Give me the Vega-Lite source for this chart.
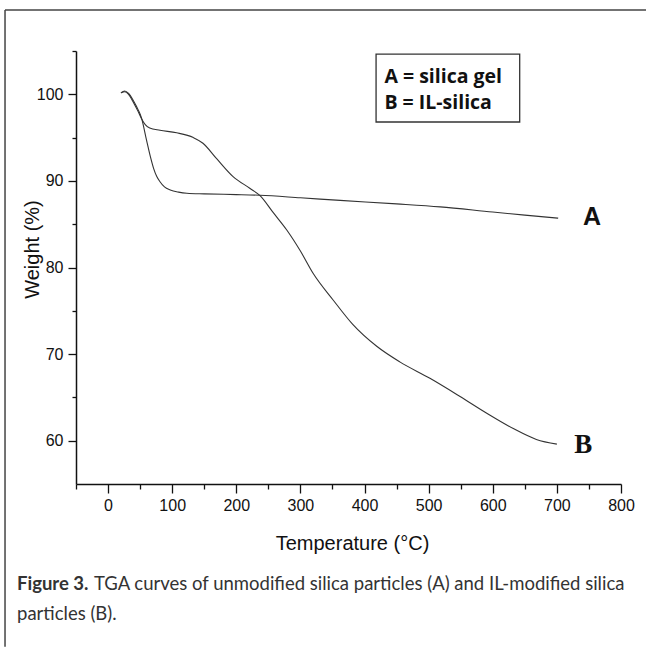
{
  "$schema": "https://vega.github.io/schema/vega-lite/v6.json",
  "width": 545,
  "height": 433,
  "autosize": "none",
  "padding": {"left": 76, "top": 51, "right": 25, "bottom": 163},
  "background": "white",
  "config": {"view": {"stroke": null}},
  "datasets": {
    "curves": [
      {"series": "A", "T": 20, "W": 100.15},
      {"series": "A", "T": 26, "W": 100.38},
      {"series": "A", "T": 32, "W": 100.1},
      {"series": "A", "T": 40, "W": 99.2},
      {"series": "A", "T": 47, "W": 98.2},
      {"series": "A", "T": 52, "W": 97.3},
      {"series": "A", "T": 60, "W": 94.7},
      {"series": "A", "T": 66, "W": 92.8},
      {"series": "A", "T": 71, "W": 91.45},
      {"series": "A", "T": 76, "W": 90.5},
      {"series": "A", "T": 81, "W": 89.9},
      {"series": "A", "T": 88, "W": 89.3},
      {"series": "A", "T": 97, "W": 88.95},
      {"series": "A", "T": 110, "W": 88.7},
      {"series": "A", "T": 123, "W": 88.57},
      {"series": "A", "T": 150, "W": 88.5},
      {"series": "A", "T": 200, "W": 88.42},
      {"series": "A", "T": 237, "W": 88.34},
      {"series": "A", "T": 300, "W": 88.05},
      {"series": "A", "T": 362, "W": 87.75},
      {"series": "A", "T": 450, "W": 87.35},
      {"series": "A", "T": 518, "W": 87.0},
      {"series": "A", "T": 600, "W": 86.4},
      {"series": "A", "T": 650, "W": 86.05},
      {"series": "A", "T": 702, "W": 85.7},
      {"series": "B", "T": 21, "W": 100.2},
      {"series": "B", "T": 26, "W": 100.3},
      {"series": "B", "T": 32, "W": 100.0},
      {"series": "B", "T": 40, "W": 99.0},
      {"series": "B", "T": 47, "W": 98.0},
      {"series": "B", "T": 52, "W": 97.2},
      {"series": "B", "T": 58, "W": 96.5},
      {"series": "B", "T": 65, "W": 96.1},
      {"series": "B", "T": 81, "W": 95.85},
      {"series": "B", "T": 107, "W": 95.55},
      {"series": "B", "T": 133, "W": 95.0},
      {"series": "B", "T": 148, "W": 94.35},
      {"series": "B", "T": 169, "W": 92.6},
      {"series": "B", "T": 195, "W": 90.5},
      {"series": "B", "T": 221, "W": 89.15},
      {"series": "B", "T": 237, "W": 88.3},
      {"series": "B", "T": 258, "W": 86.3},
      {"series": "B", "T": 279, "W": 84.3},
      {"series": "B", "T": 300, "W": 81.9},
      {"series": "B", "T": 320, "W": 79.3},
      {"series": "B", "T": 351, "W": 76.25},
      {"series": "B", "T": 382, "W": 73.4},
      {"series": "B", "T": 419, "W": 70.9},
      {"series": "B", "T": 455, "W": 69.1},
      {"series": "B", "T": 502, "W": 67.2},
      {"series": "B", "T": 549, "W": 65.1},
      {"series": "B", "T": 590, "W": 63.2},
      {"series": "B", "T": 632, "W": 61.4},
      {"series": "B", "T": 668, "W": 60.15},
      {"series": "B", "T": 700, "W": 59.6}
    ],
    "box": [{"T": 418, "W": 104.65, "T2": 642, "W2": 96.8}],
    "legendText": [
      {"T": 431, "W": 101.3, "label": "A = silica gel"},
      {"T": 431, "W": 98.3, "label": "B = IL-silica"}
    ],
    "labelA": [{"T": 755, "W": 85.8, "label": "A"}],
    "labelB": [{"T": 741, "W": 59.5, "label": "B"}],
    "frame": [
      {"T": -160.7, "W": 109.73, "T2": 839, "W2": 109.73},
      {"T": -160.7, "W": 109.73, "T2": -160.7, "W2": 36.2}
    ],
    "captionBold": [{"T": -142, "W": 42.76, "label": "Figure 3."}],
    "captionText": [
      {"T": -22, "W": 42.76, "label": "TGA curves of unmodified silica particles (A) and IL-modified silica"},
      {"T": -142, "W": 39.3, "label": "particles (B)."}
    ]
  },
  "encoding": {
    "x": {
      "field": "T",
      "type": "quantitative",
      "scale": {"domain": [-50, 800], "nice": false, "zero": false},
      "axis": {
        "title": "Temperature (°C)",
        "values": [-50, 0, 50, 100, 150, 200, 250, 300, 350, 400, 450, 500, 550, 600, 650, 700, 750, 800],
        "format": "d",
        "labelExpr": "datum.value % 100 === 0 && datum.value >= 0 ? datum.label : ''",
        "tickSize": 9,
        "tickDash": {"condition": {"test": "datum.value % 100 !== 0", "value": [5, 30]}, "value": [30, 0]},
        "labelPadding": 4,
        "labelFont": "Liberation Sans",
        "labelFontSize": 16,
        "labelColor": "#111",
        "labelFlush": false,
        "labelOverlap": false,
        "tickColor": "#111",
        "tickWidth": 1.3,
        "domainColor": "#111",
        "domainWidth": 1.5,
        "grid": false,
        "titleFont": "Liberation Sans",
        "titleFontSize": 20,
        "titleFontWeight": "normal",
        "titleColor": "#111",
        "titleBaseline": "alphabetic",
        "titleY": 65,
        "titleX": 276
      }
    },
    "y": {
      "field": "W",
      "type": "quantitative",
      "scale": {"domain": [55, 105], "nice": false, "zero": false},
      "axis": {
        "title": "Weight (%)",
        "values": [60, 65, 70, 75, 80, 85, 90, 95, 100, 105],
        "format": "d",
        "labelExpr": "datum.value % 10 === 0 ? datum.label : ''",
        "tickSize": 8,
        "tickDash": {"condition": {"test": "datum.value % 10 !== 0", "value": [4, 30]}, "value": [30, 0]},
        "labelPadding": 5,
        "labelFont": "Liberation Sans",
        "labelFontSize": 16,
        "labelColor": "#111",
        "labelFlush": false,
        "labelOverlap": false,
        "tickColor": "#111",
        "tickWidth": 1.3,
        "domainColor": "#111",
        "domainWidth": 1.5,
        "grid": false,
        "titleFont": "Liberation Sans",
        "titleFontSize": 20,
        "titleFontWeight": "normal",
        "titleColor": "#111",
        "titleAngle": -90,
        "titleBaseline": "alphabetic",
        "titleAlign": "center",
        "titleX": -38,
        "titleY": 198
      }
    }
  },
  "layer": [
    {
      "data": {"name": "frame"},
      "mark": {"type": "rule", "color": "#444", "strokeWidth": 1.5},
      "encoding": {"x2": {"field": "T2"}, "y2": {"field": "W2"}}
    },
    {
      "data": {"name": "curves"},
      "mark": {"type": "line", "color": "#333", "strokeWidth": 1.1, "interpolate": "monotone"},
      "encoding": {"detail": {"field": "series"}}
    },
    {
      "data": {"name": "box"},
      "mark": {"type": "rect", "fill": "white", "stroke": "#333", "strokeWidth": 1.3},
      "encoding": {"x2": {"field": "T2"}, "y2": {"field": "W2"}}
    },
    {
      "data": {"name": "legendText"},
      "mark": {"type": "text", "align": "left", "baseline": "alphabetic", "font": "Open Sans", "fontWeight": "bold", "fontSize": 19.5, "color": "#111"},
      "encoding": {"text": {"field": "label"}}
    },
    {
      "data": {"name": "labelA"},
      "mark": {"type": "text", "align": "center", "baseline": "middle", "font": "Liberation Sans", "fontWeight": "bold", "fontSize": 25, "color": "#111"},
      "encoding": {"text": {"field": "label"}}
    },
    {
      "data": {"name": "labelB"},
      "mark": {"type": "text", "align": "center", "baseline": "middle", "font": "Liberation Serif", "fontWeight": "bold", "fontSize": 27, "color": "#111"},
      "encoding": {"text": {"field": "label"}}
    },
    {
      "data": {"name": "captionBold"},
      "mark": {"type": "text", "align": "left", "baseline": "alphabetic", "font": "Lato", "fontWeight": "bold", "fontSize": 18.5, "color": "#333"},
      "encoding": {"text": {"field": "label"}}
    },
    {
      "data": {"name": "captionText"},
      "mark": {"type": "text", "align": "left", "baseline": "alphabetic", "font": "Lato", "fontSize": 18.5, "color": "#333"},
      "encoding": {"text": {"field": "label"}}
    }
  ]
}
